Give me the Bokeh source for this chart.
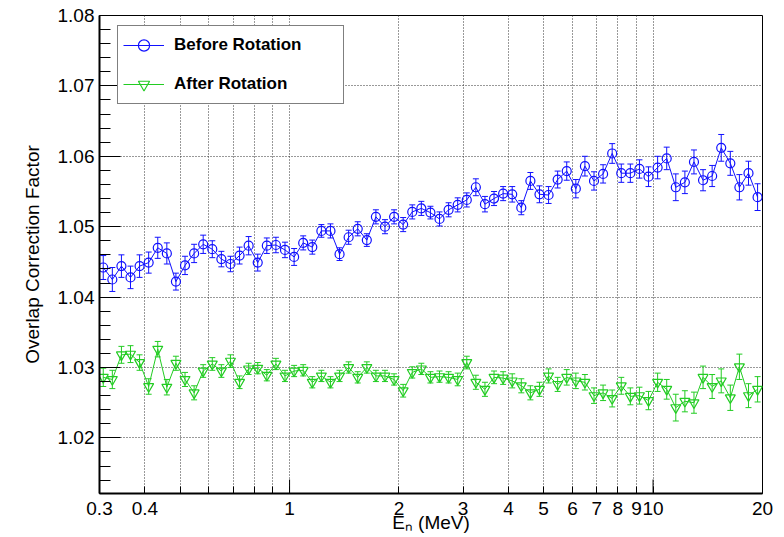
from bokeh.plotting import figure
from bokeh.models import (ColumnDataSource, Range1d, FixedTicker, PrintfTickFormatter,
                          Whisker, TeeHead, Legend)
from bokeh.embed import file_html
from bokeh.resources import INLINE

# Neutron energy bin centres (MeV), 40 log bins per decade
energy = [0.3072, 0.3254, 0.3447, 0.3651, 0.3867, 0.4096, 0.4339, 0.4596, 0.4868, 0.5157,
          0.5463, 0.5786, 0.6129, 0.6492, 0.6877, 0.7285, 0.7716, 0.8173, 0.8658, 0.9171,
          0.9714, 1.0292, 1.0902, 1.1548, 1.2232, 1.2957, 1.3725, 1.4538, 1.5399, 1.6312,
          1.7278, 1.8302, 1.9387, 2.0535, 2.1752, 2.3041, 2.4406, 2.5852, 2.7384, 2.9007,
          3.0726, 3.2546, 3.4475, 3.6517, 3.8681, 4.0973, 4.3401, 4.5973, 4.8697, 5.1582,
          5.4639, 5.7876, 6.1306, 6.4938, 6.8786, 7.2862, 7.7179, 8.1752, 8.6596, 9.1728,
          9.7163, 10.292, 10.902, 11.548, 12.232, 12.957, 13.725, 14.538, 15.399, 16.312,
          17.278, 18.302, 19.387]

before = [1.0442, 1.0425, 1.0444, 1.0428, 1.0444, 1.0449, 1.0470, 1.0462, 1.0422, 1.0445,
          1.0462, 1.0475, 1.0468, 1.0454, 1.0447, 1.0459, 1.0473, 1.0449, 1.0473, 1.0474,
          1.0467, 1.0457, 1.0477, 1.0471, 1.0494, 1.0494, 1.0461, 1.0485, 1.0497, 1.0481,
          1.0514, 1.0500, 1.0514, 1.0503, 1.0521, 1.0526, 1.0520, 1.0511, 1.0524, 1.0531,
          1.0538, 1.0556, 1.0532, 1.0540, 1.0547, 1.0546, 1.0527, 1.0565, 1.0546, 1.0545,
          1.0567, 1.0579, 1.0554, 1.0586, 1.0565, 1.0575, 1.0604, 1.0576, 1.0576, 1.0582,
          1.0571, 1.0584, 1.0597, 1.0556, 1.0563, 1.0592, 1.0566, 1.0572, 1.0612, 1.0590,
          1.0556, 1.0576, 1.0542]
before_err = [0.0017, 0.0017, 0.0016, 0.0016, 0.0016, 0.0015, 0.0015, 0.0015, 0.0012, 0.0013,
              0.0013, 0.0013, 0.0012, 0.0011, 0.0011, 0.0012, 0.0013, 0.0012, 0.0011, 0.0011,
              0.0011, 0.0012, 0.0010, 0.0010, 0.0009, 0.0010, 0.0009, 0.0010, 0.0010, 0.0009,
              0.0010, 0.0010, 0.0010, 0.0010, 0.0010, 0.0010, 0.0009, 0.0010, 0.0010, 0.0010,
              0.0010, 0.0012, 0.0011, 0.0010, 0.0010, 0.0011, 0.0010, 0.0012, 0.0012, 0.0012,
              0.0012, 0.0013, 0.0013, 0.0014, 0.0013, 0.0013, 0.0014, 0.0013, 0.0013, 0.0013,
              0.0014, 0.0016, 0.0016, 0.0019, 0.0016, 0.0017, 0.0015, 0.0015, 0.0019, 0.0017,
              0.0018, 0.0017, 0.0019]

after = [1.0286, 1.0283, 1.0318, 1.0319, 1.0307, 1.0273, 1.0326, 1.0272, 1.0306, 1.0283,
         1.0264, 1.0295, 1.0305, 1.0295, 1.0309, 1.0279, 1.0298, 1.0299, 1.0289, 1.0305,
         1.0288, 1.0295, 1.0296, 1.0279, 1.0288, 1.0279, 1.0288, 1.0300, 1.0286, 1.0300,
         1.0288, 1.0288, 1.0283, 1.0267, 1.0293, 1.0298, 1.0286, 1.0287, 1.0286, 1.0283,
         1.0307, 1.0279, 1.0269, 1.0286, 1.0285, 1.0281, 1.0274, 1.0264, 1.0269, 1.0288,
         1.0276, 1.0286, 1.0281, 1.0279, 1.0260, 1.0264, 1.0256, 1.0274, 1.0259, 1.0260,
         1.0253, 1.0279, 1.0269, 1.0243, 1.0252, 1.0250, 1.0286, 1.0273, 1.0281, 1.0257,
         1.0301, 1.0260, 1.0269]
after_err = [0.0013, 0.0013, 0.0012, 0.0012, 0.0011, 0.0011, 0.0011, 0.0011, 0.0010, 0.0010,
             0.0010, 0.0009, 0.0009, 0.0009, 0.0009, 0.0009, 0.0008, 0.0008, 0.0008, 0.0008,
             0.0008, 0.0008, 0.0008, 0.0008, 0.0008, 0.0008, 0.0008, 0.0008, 0.0008, 0.0008,
             0.0008, 0.0008, 0.0008, 0.0009, 0.0008, 0.0008, 0.0008, 0.0008, 0.0008, 0.0009,
             0.0009, 0.0010, 0.0010, 0.0009, 0.0009, 0.0010, 0.0010, 0.0010, 0.0010, 0.0010,
             0.0010, 0.0011, 0.0011, 0.0011, 0.0011, 0.0011, 0.0012, 0.0012, 0.0012, 0.0012,
             0.0013, 0.0013, 0.0014, 0.0019, 0.0015, 0.0015, 0.0016, 0.0017, 0.0017, 0.0018,
             0.0018, 0.0017, 0.0018]

x_ticks = [0.3, 0.4, 0.5, 0.6, 0.7, 0.8, 0.9, 1, 2, 3, 4, 5, 6, 7, 8, 9, 10, 20]
x_tick_labels = ["0.3", "0.4", "", "", "", "", "", "1", "2", "3", "4", "5", "6", "7", "8", "9", "10", "20"]
decade_ticks = [1, 10]
y_ticks = [1.02, 1.03, 1.04, 1.05, 1.06, 1.07, 1.08]
y_minor_ticks = [1.014, 1.016, 1.018, 1.022, 1.024, 1.026, 1.028, 1.032, 1.034, 1.036, 1.038,
                 1.042, 1.044, 1.046, 1.048, 1.052, 1.054, 1.056, 1.058, 1.062, 1.064, 1.066,
                 1.068, 1.072, 1.074, 1.076, 1.078]

BLUE = "#1010ff"
GREEN = "#22cc22"
FONT = "Liberation Sans"

y_lo, y_hi = 1.0121, 1.08

p = figure(width=784, height=537, x_axis_type="log", output_backend="svg",
           toolbar_location=None, x_range=Range1d(0.3, 20), y_range=Range1d(y_lo, y_hi),
           min_border_left=99, min_border_right=22, min_border_top=15, min_border_bottom=44)
p.background_fill_color = "white"
p.border_fill_color = "white"
p.outline_line_color = "black"
p.outline_line_width = 1

# axes
xa = p.xaxis[0]
xa.ticker = FixedTicker(ticks=x_ticks)
xa.major_label_overrides = {t: s for t, s in zip(x_ticks, x_tick_labels)}
xa.major_tick_in = 7
xa.major_tick_out = 0
xa.minor_tick_in = 0
xa.minor_tick_out = 0
xa.major_label_standoff = 8
xa.major_label_text_font = FONT
xa.major_label_text_font_size = "19px"
xa.major_label_text_color = "black"
xa.axis_line_width = 2
xa.axis_line_color = "black"
xa.major_tick_line_color = "black"
xa.axis_label = "E\u2099 (MeV)"
xa.axis_label_text_font = FONT
xa.axis_label_text_font_size = "19px"
xa.axis_label_text_font_style = "normal"
xa.axis_label_text_color = "black"
xa.axis_label_standoff = -6

ya = p.yaxis[0]
ya.ticker = FixedTicker(ticks=y_ticks, minor_ticks=y_minor_ticks)
ya.formatter = PrintfTickFormatter(format="%.2f")
ya.major_tick_in = 21
ya.major_tick_out = 0
ya.minor_tick_in = 11
ya.minor_tick_out = 0
ya.major_label_standoff = 5
ya.major_label_text_font = FONT
ya.major_label_text_font_size = "19px"
ya.major_label_text_color = "black"
ya.axis_line_width = 2
ya.axis_line_color = "black"
ya.major_tick_line_color = "black"
ya.minor_tick_line_color = "black"
ya.axis_label = "Overlap Correction Factor"
ya.axis_label_text_font = FONT
ya.axis_label_text_font_size = "19px"
ya.axis_label_text_font_style = "normal"
ya.axis_label_text_color = "black"
ya.axis_label_standoff = 12

for g in p.grid:
    g.grid_line_color = "#333333"
    g.grid_line_dash = "1 2"
    g.grid_line_width = 1

# longer ticks at the decades
tick_len = (y_hi - y_lo) * 14 / 478
p.segment(x0=decade_ticks, x1=decade_ticks, y0=[y_lo] * len(decade_ticks),
          y1=[y_lo + tick_len] * len(decade_ticks), line_color="black", line_width=1)

series = [
    ("Before Rotation", before, before_err, BLUE, "circle", 9),
    ("After Rotation", after, after_err, GREEN, "inverted_triangle", 10),
]
legend_items = []
for name, vals, errs, color, marker, size in series:
    src = ColumnDataSource(data=dict(
        x=energy, y=vals,
        lower=[v - e for v, e in zip(vals, errs)],
        upper=[v + e for v, e in zip(vals, errs)],
    ))
    wk = Whisker(source=src, base="x", lower="lower", upper="upper", dimension="height",
                 line_color=color, line_width=1,
                 upper_head=TeeHead(size=6, line_color=color, line_width=1),
                 lower_head=TeeHead(size=6, line_color=color, line_width=1))
    p.add_layout(wk)
    ln = p.line("x", "y", source=src, line_color=color, line_width=1)
    sc = p.scatter("x", "y", source=src, marker=marker, size=size, fill_color=None,
                   line_color=color, line_width=1.2)
    legend_items.append((name, [ln, sc]))

legend = Legend(items=legend_items, location=(18, 389))
legend.label_text_font = FONT
legend.label_text_font_style = "bold"
legend.label_text_font_size = "17px"
legend.label_text_color = "black"
legend.padding = 5
legend.spacing = 11
legend.glyph_width = 41
legend.glyph_height = 28
legend.label_height = 28
legend.label_width = 164
legend.label_standoff = 10
legend.border_line_color = "black"
legend.border_line_width = 1.5
legend.background_fill_color = "white"
legend.background_fill_alpha = 1
p.add_layout(legend)

open("out.html", "w").write(file_html(p, INLINE))
